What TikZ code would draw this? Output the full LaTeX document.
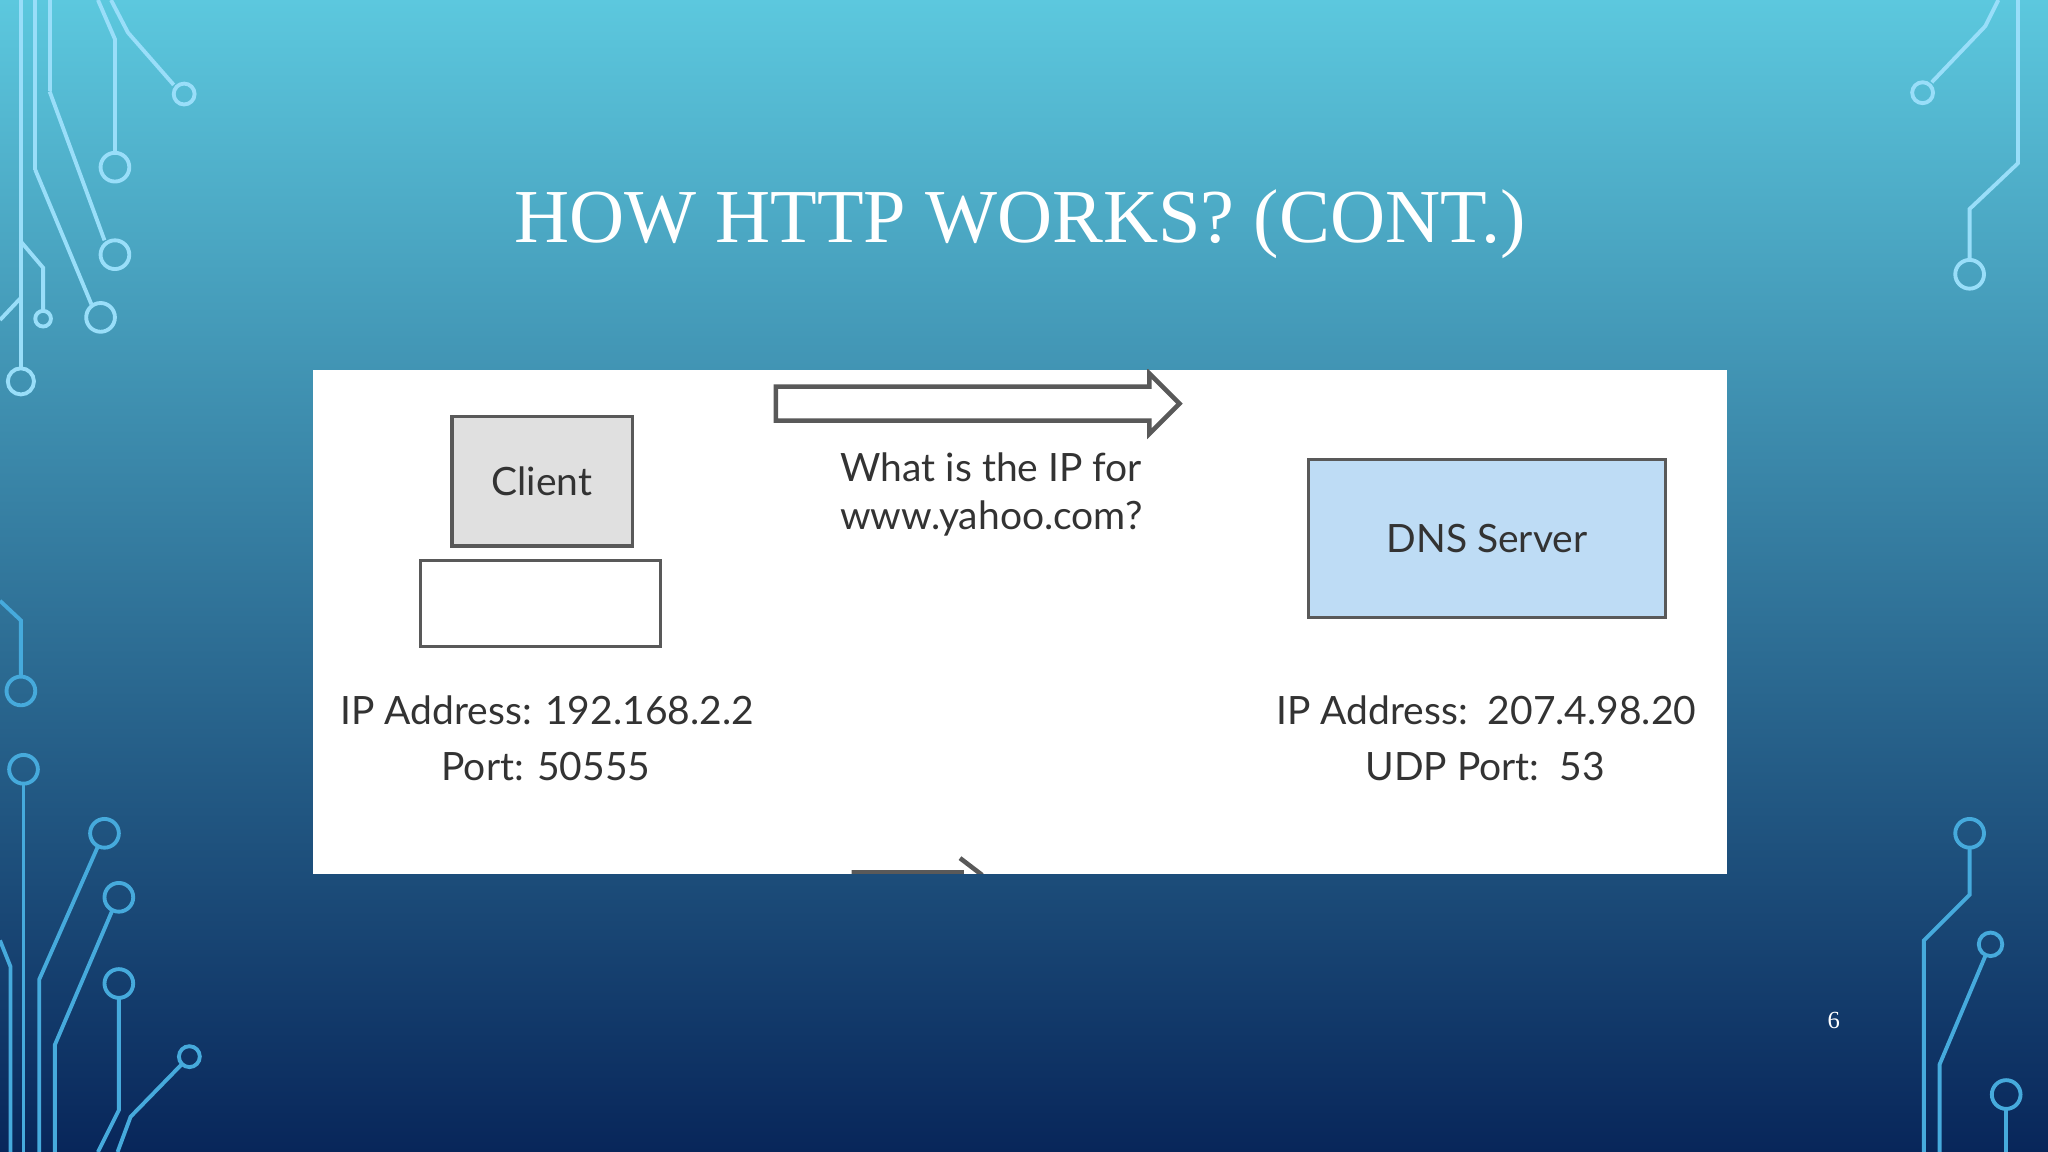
\documentclass[tikz,border=0pt]{standalone}
\usepackage{fontspec}
\setmainfont{Liberation Serif}
\newfontfamily\lato{Lato}
\begin{document}
\begin{tikzpicture}[x=0.013061cm,y=-0.013061cm,
  circ/.style={line width=1.1pt,draw=cyan!40!white},
  circb/.style={line width=1.1pt,draw={rgb,255:red,70;green,170;blue,220}},
  lbl/.style={font=\lato\fontsize{11.1}{13}\selectfont,text=black!80,align=center},
  boxs/.style={draw=black!65,line width=0.9pt}]
\useasboundingbox (0,0) rectangle (1568,882);
\shade[top color={rgb,255:red,92;green,200;blue,222},middle color={rgb,255:red,45;green,150;blue,195},bottom color={rgb,255:red,8;green,38;blue,90}] (0,0) rectangle (1568,882);
% circuits top-left
\draw[circ] (16,0)--(16,282) (27,0)--(27,130) (38,0)--(38,70);
\draw[circ] (16,292) circle (10);
\draw[circ] (75,0)--(88,30)--(88,117); \draw[circ] (88,128) circle (11);
\draw[circ] (85,0)--(98,25)--(133,65); \draw[circ] (141,72) circle (8);
\draw[circ] (38,70)--(80,184); \draw[circ] (88,195) circle (11);
\draw[circ] (27,130)--(70,233); \draw[circ] (77,243) circle (11);
\draw[circ] (16,185)--(33,205)--(33,238); \draw[circ] (33,244) circle (6);
\draw[circ] (0,245)--(16,228);
% middle left
\draw[circb] (0,460)--(16,475)--(16,518); \draw[circb] (16,529) circle (11);
% bottom left
\draw[circb] (18,589) circle (11); \draw[circb] (18,600)--(18,882);
\draw[circb] (80,638) circle (11); \draw[circb] (75,648)--(30,750)--(30,882);
\draw[circb] (91,687) circle (11); \draw[circb] (86,697)--(42,800)--(42,882);
\draw[circb] (91,753) circle (11); \draw[circb] (91,764)--(91,850)--(75,882);
\draw[circb] (145,809) circle (8); \draw[circb] (139,815)--(100,855)--(90,882);
\draw[circb] (0,720)--(8,740)--(8,882);
% right top
\draw[circ] (1530,0)--(1520,20)--(1479,63); \draw[circ] (1472,71) circle (8);
\draw[circ] (1545,0)--(1545,125)--(1508,160)--(1508,198); \draw[circ] (1508,210) circle (11);
% right bottom
\draw[circb] (1508,638) circle (11); \draw[circb] (1508,649)--(1508,685)--(1473,720)--(1473,882);
\draw[circb] (1524,723) circle (9); \draw[circb] (1520,732)--(1485,815)--(1485,882);
\draw[circb] (1536,838) circle (11); \draw[circb] (1536,849)--(1536,882);
% title
\node[text=white,font=\fontsize{21.7}{26}\selectfont] (title) at (781,172) {HOW HTTP WORKS? (CONT.)};
% panel
\node[fill=white,minimum width=1082*0.013061cm,minimum height=386*0.013061cm,inner sep=0] (panel) at (781,476) {};
\begin{scope}
\clip (240,283) rectangle (1322,669);
\draw[boxs,line width=1.3pt,line join=miter] (594,296)--(880,296)--(880,286)--(903,309)--(880,332)--(880,322)--(594,322)--cycle;
\draw[boxs,line width=1.3pt] (652,668)--(738,668) (735,657)--(752,670);
\end{scope}
\node[boxs,fill=black!12,minimum width=138*0.013061cm,minimum height=99*0.013061cm,lbl] (client) at (415,368.5) {Client};
\node[boxs,fill=white,minimum width=184*0.013061cm,minimum height=66*0.013061cm] (base) at (414,462) {};
\node[boxs,fill={rgb,255:red,190;green,220;blue,245},minimum width=273*0.013061cm,minimum height=121*0.013061cm,lbl] (dns) at (1138.5,412.5) {DNS Server};
\node[lbl] (q1) at (759,358) {What is the IP for};
\node[lbl] (q2) at (759,397) {www.yahoo.com?};
\node[lbl] (c1) at (419,544) {IP Address: 192.168.2.2};
\node[lbl] (c2) at (418,587) {Port: 50555};
\node[lbl] (d1) at (1138,544) {IP Address:\ \ 207.4.98.20};
\node[lbl] (d2) at (1137,587) {UDP Port:\ \ 53};
\node[text=white,font=\fontsize{7}{8}\selectfont] (pg) at (1404,781) {6};
\end{tikzpicture}
\end{document}
